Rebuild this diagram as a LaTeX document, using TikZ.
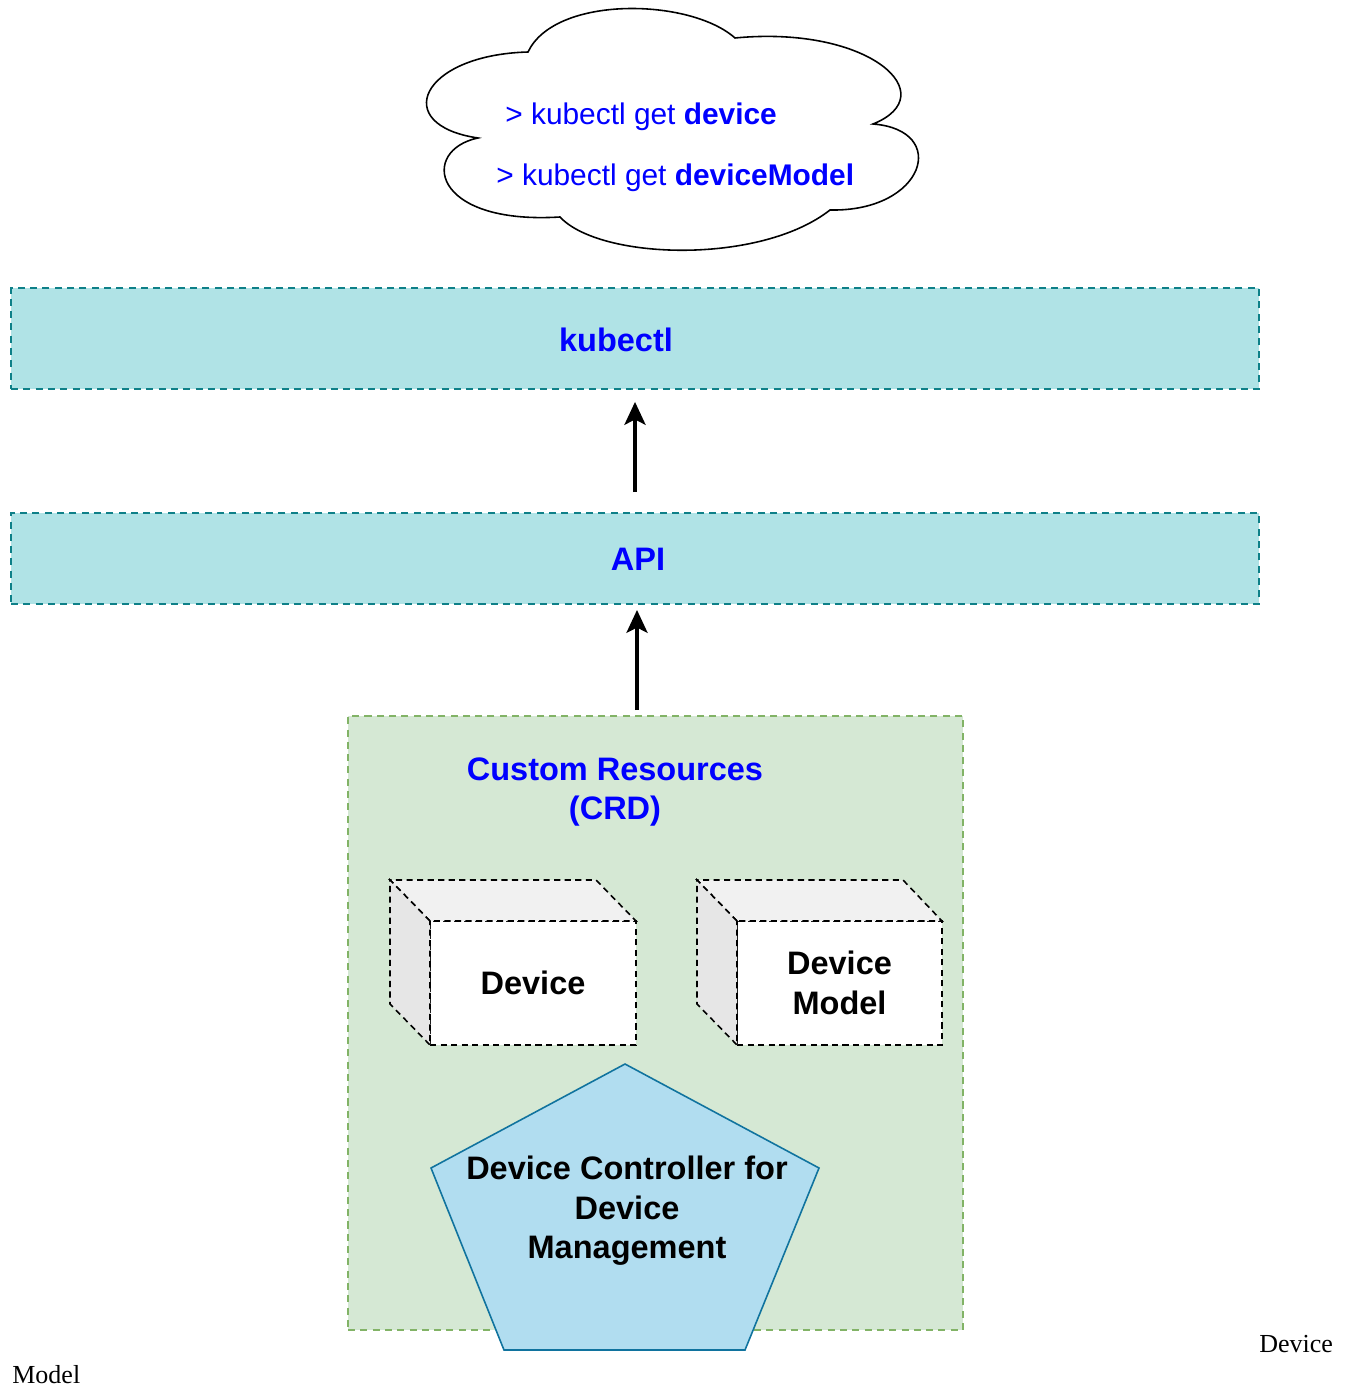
\documentclass[tikz,border=0pt]{standalone}
\usepackage{fontspec}
\setmainfont{Liberation Sans}
\newfontfamily\notefont{Liberation Serif}
\usetikzlibrary{arrows.meta}
\definecolor{layerfill}{HTML}{B0E3E6}
\definecolor{layerline}{HTML}{0E8088}
\definecolor{crdfill}{HTML}{D5E8D4}
\definecolor{crdline}{HTML}{82B366}
\definecolor{ctrlfill}{HTML}{B1DDF0}
\definecolor{ctrlline}{HTML}{10739E}
\definecolor{cmdblue}{HTML}{0000FF}
\definecolor{cubetop}{HTML}{F1F1F1}
\definecolor{cubeside}{HTML}{E6E6E6}
\begin{document}
\begin{tikzpicture}[x=0.02cm, y=-0.02cm, >={Stealth[length=13pt,width=12pt,inset=3pt]},
 boxtext/.style={font=\fontsize{18.5}{22.5}\selectfont\bfseries,align=center,inner sep=0pt},
 cmd/.style={font=\fontsize{17}{20}\selectfont,text=cmdblue,anchor=base west,inner sep=0pt},
 layerbox/.style={draw=layerline,fill=layerfill,line width=1pt,dash pattern=on 4pt off 3pt,
  minimum width=24.96cm,outer sep=0pt},
 cubeline/.style={draw=black,line width=0.9pt,dash pattern=on 3.5pt off 2.5pt},
 face/.style={cubeline,fill=white,minimum width=#1,minimum height=2.48cm,outer sep=0pt,
  boxtext},
 flow/.style={->,line width=1.9pt}]
\useasboundingbox (0,0) rectangle (1351,1388);
\draw[line width=0.9pt,fill=white] (528,52) .. controls (420,55) and (390,125) .. (478,138)
 .. controls (420,150) and (430,225) .. (560,217)
 .. controls (600,260) and (760,265) .. (830,210)
 .. controls (925,212) and (950,130) .. (873,124)
 .. controls (945,95) and (870,25) .. (735,38)
 .. controls (690,-2) and (555,-5) .. cycle;
\node[cmd] (getdev) at (505,125) {> kubectl get \textbf{device}};
\node[cmd] (getmodel) at (496,186) {> kubectl get \textbf{deviceModel}};
\node[layerbox,minimum height=2.02cm] (kubectl) at (635,338.5) {};
\node[boxtext,text=cmdblue] (kubectltext) at (616,340) {kubectl};
\node[layerbox,minimum height=1.82cm] (api) at (635,558.5) {};
\node[boxtext,text=cmdblue] (apitext) at (638,559) {API};
\node[draw=crdline,fill=crdfill,line width=1pt,dash pattern=on 4pt off 3pt,
 minimum width=12.3cm,minimum height=12.28cm,outer sep=0pt] (crd) at (655.5,1023) {};
\node[boxtext,text=cmdblue] (crdtext) at (615,792) {Custom Resources\\(CRD)};
\node[face=4.12cm] (device) at (533,983) {Device};
\node[face=4.1cm] (model) at (839.5,983) {Device\\Model};
\foreach \c in {device,model} {
 \draw[cubeline,fill=cubetop] (\c.north west) -- ++(-40,-41) -- ++(206,0) -- (\c.north east) -- cycle;
 \draw[cubeline,fill=cubeside] (\c.north west) -- ++(-40,-41) -- ++(0,124) -- (\c.south west) -- cycle;
}
\draw[draw=ctrlline,fill=ctrlfill,line width=0.9pt]
 (625,1064) -- (819,1168) -- (745,1350) -- (504,1350) -- (431,1168) -- cycle;
\node[boxtext] (ctrl) at (627,1211) {Device Controller for\\Device\\Management};
\coordinate (upx) at (637,0);
\draw[flow,shorten <=21pt*0.567,shorten >=13pt*0.567] (api.north) -- (kubectl.south);
\draw[flow,shorten <=0.12cm,shorten >=0.12cm] (crd.north -| upx) -- (api.south -| upx);
\node[font=\notefont\fontsize{14.8}{17}\selectfont,anchor=base west,inner sep=0pt] (notedev) at (1259,1352) {Device};
\node[font=\notefont\fontsize{14.8}{17}\selectfont,anchor=base west,inner sep=0pt] (notemodel) at (12,1383) {Model};
\end{tikzpicture}
\end{document}
